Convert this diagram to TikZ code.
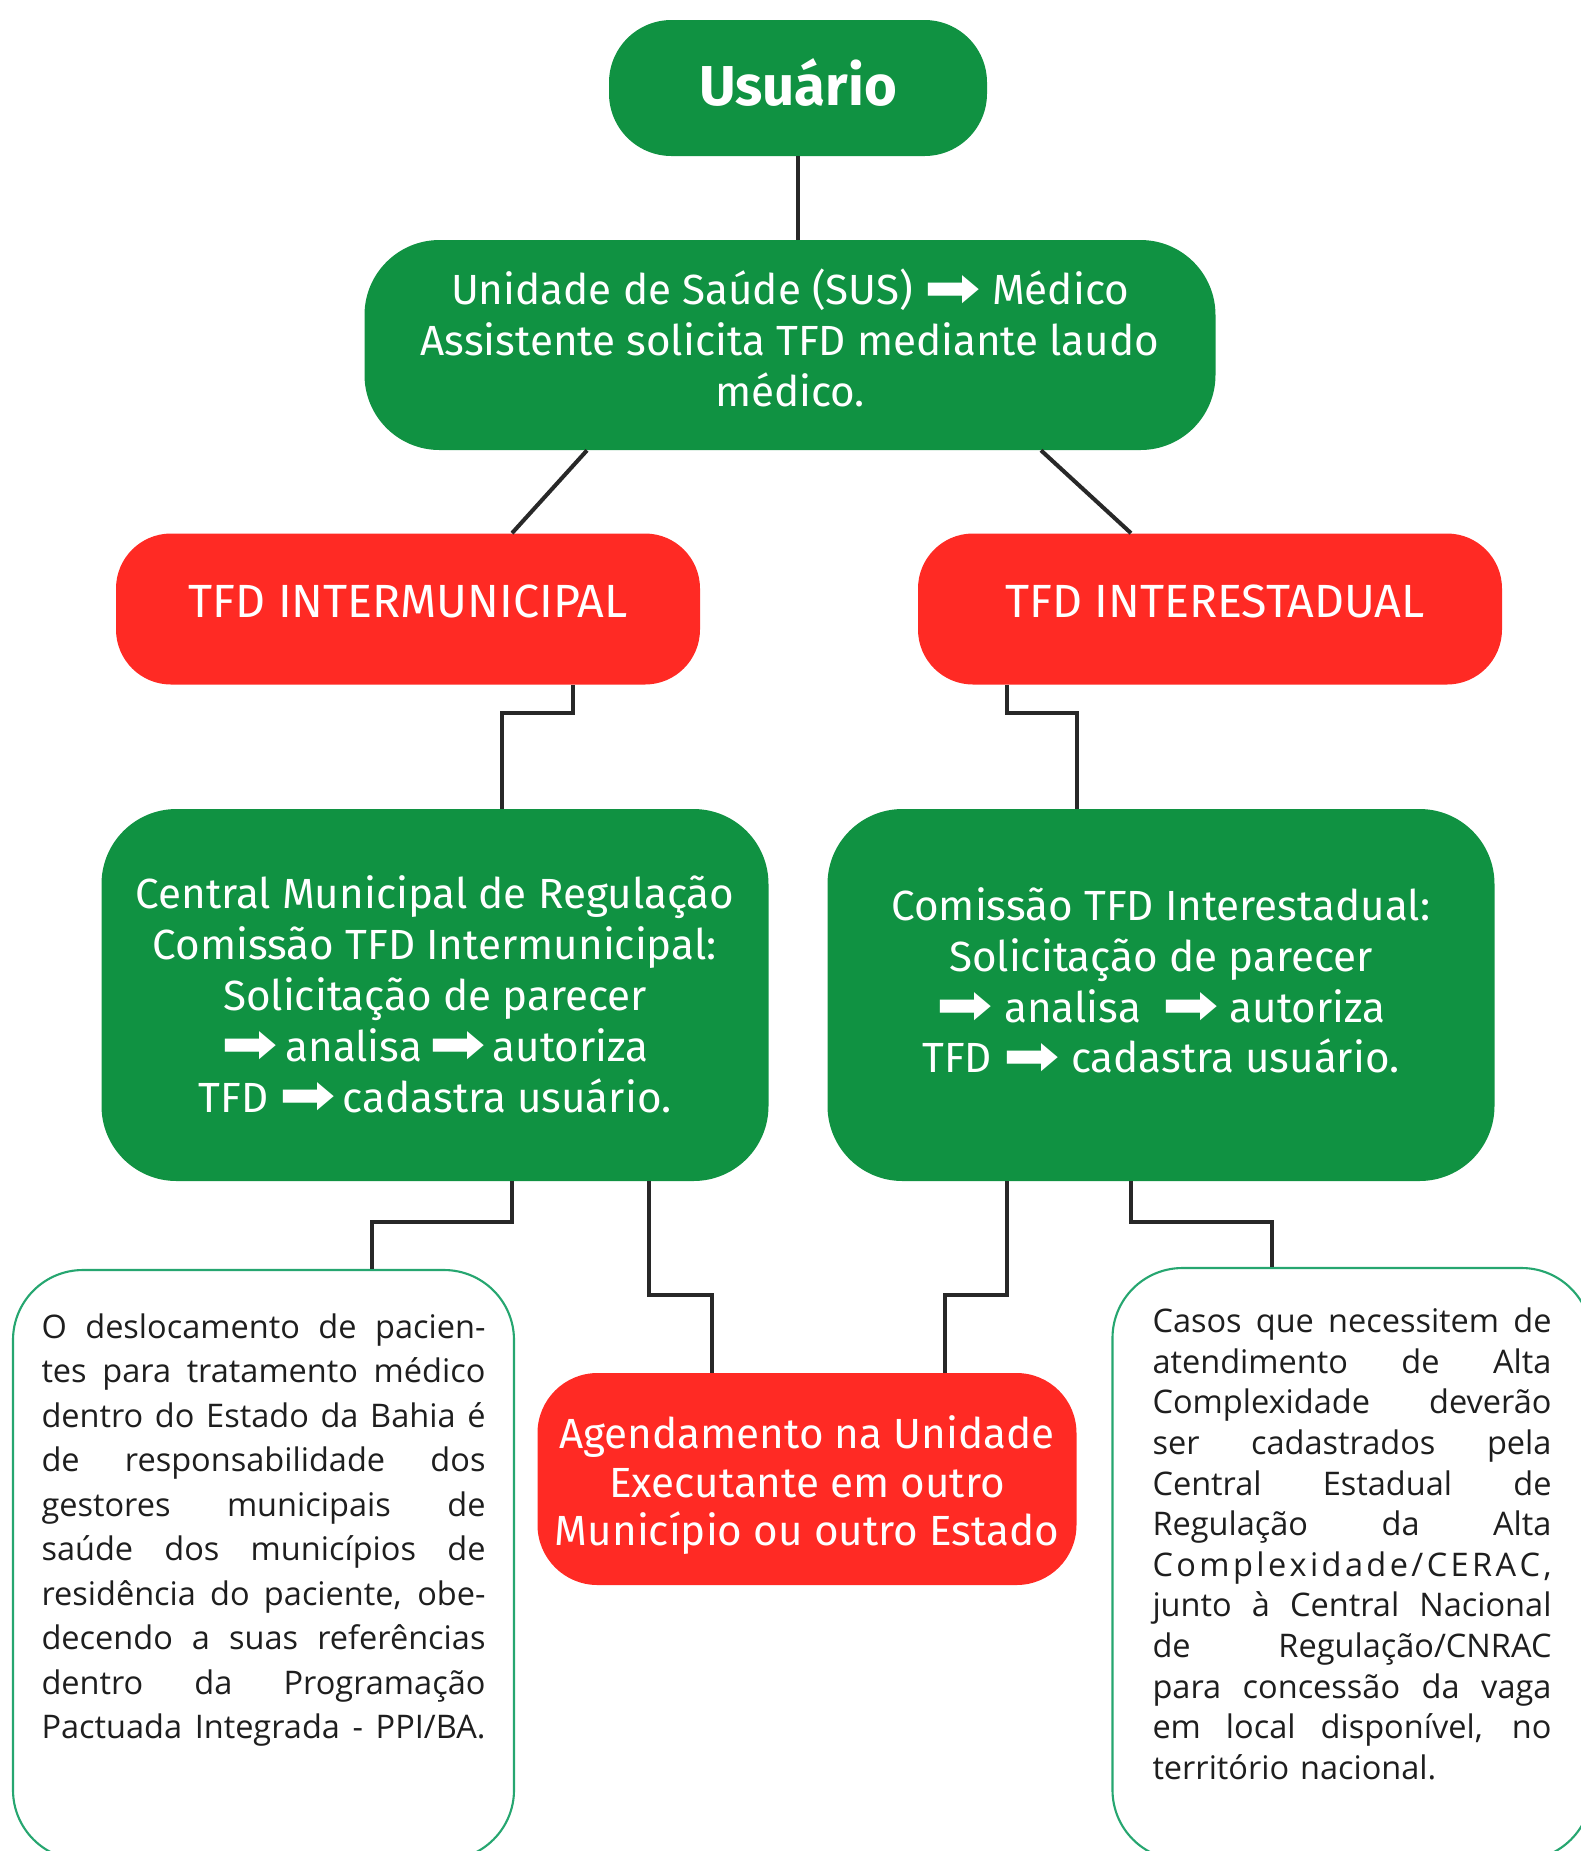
\documentclass[tikz,border=0pt]{standalone}
\usepackage{fontspec}
\setmainfont{Fira Sans}
\newfontfamily\notefont{Open Sans}
\newfontfamily\arrowfont{DejaVu Sans}
\usepackage{tikz}
\definecolor{boxgreen}{RGB}{16,146,66}
\definecolor{boxred}{RGB}{255,42,36}
\definecolor{notegreen}{RGB}{38,166,112}
\definecolor{linkgray}{RGB}{40,40,40}
\definecolor{notetext}{RGB}{30,30,30}
\newcommand{\rarr}{\raisebox{-0.06em}{\scalebox{1.6}[1.35]{\arrowfont\char"27A1}}}
\newcommand{\jline}[1]{\noindent{\spaceskip=0pt\xspaceskip=0pt\makebox[\hsize][s]{#1}}\par}
\tikzset{green node/.style={rounded corners=1.5cm,fill=boxgreen,text=white,align=center,inner sep=0pt,font=\fontsize{24}{29}\selectfont},
         red node/.style={rounded corners=1.1cm,fill=boxred,text=white,align=center,inner sep=0pt,font=\fontsize{24}{27.6}\selectfont},}
\tikzstyle{note} = [draw=notegreen,line width=1.2pt,rounded corners=1.4cm,fill=white,text=notetext,inner sep=0pt,align=left]
\tikzstyle{link} = [draw=linkgray,line width=2.3pt]

\begin{document}
\begin{tikzpicture}
    \clip (0,0) rectangle (31.62,-37.02);
    \node[green node, rounded corners=1.25cm, minimum width=7.56cm, minimum height=2.72cm,
          font=\bfseries\fontsize{32}{36}\selectfont] (1) at (15.96,-1.76) {Usuário\\[-29pt]\mbox{}};
    \node[green node, minimum width=17.02cm, minimum height=4.2cm] (2) at (15.8,-6.9)
        {Unidade de Saúde (SUS) \rarr\ Médico\\ Assistente solicita TFD mediante laudo\\ médico.\\[-21pt]\mbox{}};
    \node[red node, minimum width=11.68cm, minimum height=3.02cm, font=\fontsize{26.5}{30}\selectfont]
        (3) at (8.16,-12.18) {TFD INTERMUNICIPAL\\[-20.8pt]\mbox{}};
    \node[red node, minimum width=11.68cm, minimum height=3.02cm, font=\fontsize{26.5}{30}\selectfont]
        (4) at (24.2,-12.18) {\hspace*{0.2cm}TFD INTERESTADUAL\\[-20.8pt]\mbox{}};
    \node[green node, minimum width=13.34cm, minimum height=7.44cm] (5) at (8.7,-19.9)
        {Central Municipal de Regulação\\ Comissão TFD Intermunicipal:\\ Solicitação de parecer\\
         \rarr\,analisa\,\rarr\,autoriza\\ TFD \rarr\,cadastra usuário.};
    \node[green node, minimum width=13.34cm, minimum height=7.44cm] (6) at (23.22,-19.9)
        {Comissão TFD Interestadual:\\ Solicitação de parecer\\ \rarr\ analisa\enspace\rarr\ autoriza\\
         TFD \rarr\ cadastra usuário.\\[-12pt]\mbox{}};
    \node[red node, rounded corners=1.2cm, minimum width=10.78cm, minimum height=4.24cm] (7) at (16.14,-29.58)
        {\rule{0pt}{26pt}Agendamento na Unidade\\ Executante em outro\\ Município ou outro Estado};
    \node[note, text width=8.88cm, minimum width=10.02cm, minimum height=11.8cm,
          font=\notefont\fontsize{18.5}{25.3}\selectfont] (8) at (5.27,-31.3)
        {\jline{O deslocamento de pacien-}
         \jline{tes para tratamento médico}
         \jline{dentro do Estado da Bahia é}
         \jline{de responsabilidade dos}
         \jline{gestores municipais de}
         \jline{saúde dos municípios de}
         \jline{residência do paciente, obe-}
         \jline{decendo a suas referências}
         \jline{dentro da Programação}
         \jline{Pactuada Integrada - PPI/BA.}
         \vspace{19pt}\hbox{}};
    \node[note, text width=7.98cm, minimum width=9.58cm, minimum height=11.84cm,
          font=\notefont\fontsize{18.5}{23.1}\selectfont] (9) at (27.04,-31.28)
        {\jline{Casos que necessitem de}
         \jline{atendimento de Alta}
         \jline{Complexidade deverão}
         \jline{ser cadastrados pela}
         \jline{Central Estadual de}
         \jline{Regulação da Alta}
         \jline{C\hfil o\hfil m\hfil p\hfil l\hfil e\hfil x\hfil i\hfil d\hfil a\hfil d\hfil e\hfil /\hfil C\hfil E\hfil R\hfil A\hfil C\hfil ,}
         \jline{junto à Central Nacional}
         \jline{de Regulação/CNRAC}
         \jline{para concessão da vaga}
         \jline{em local disponível, no}
         \noindent território nacional.\par
         \hbox{}};
    % ligacoes
    \draw[link] (1.south) -- (1.south |- 2.north);
    \draw[link] ([xshift=-4.06cm]2.south) -- ([xshift=2.08cm]3.north);
    \draw[link] ([xshift=5.02cm]2.south) -- ([xshift=-1.58cm]4.north);
    \draw[link] ([xshift=3.3cm]3.south) -- ++(0,-0.57) -| ([xshift=1.34cm]5.north);
    \draw[link] ([xshift=-4.06cm]4.south) -- ++(0,-0.57) -| ([xshift=-1.68cm]6.north);
    \draw[link] ([xshift=1.54cm]5.south) -- ++(0,-0.82) -| ([xshift=2.17cm]8.north);
    \draw[link] ([xshift=4.28cm]5.south) -- ++(0,-2.28) -| ([xshift=-1.9cm]7.north);
    \draw[link] ([xshift=-3.08cm]6.south) -- ++(0,-2.28) -| ([xshift=2.76cm]7.north);
    \draw[link] ([xshift=-0.6cm]6.south) -- ++(0,-0.82) -| ([xshift=-1.6cm]9.north);
\end{tikzpicture}
\end{document}
